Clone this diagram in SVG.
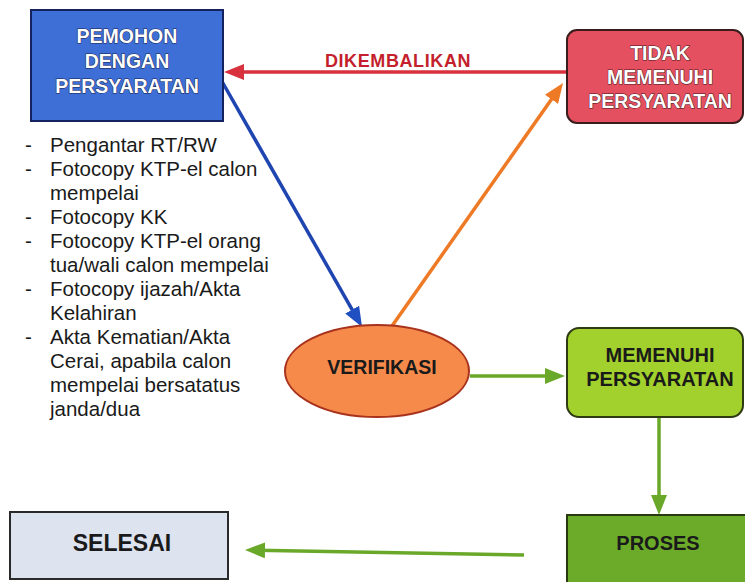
<svg xmlns="http://www.w3.org/2000/svg" width="745" height="582" viewBox="0 0 745 582">
<defs>
<style>
text{font-family:"Liberation Sans",Arial,sans-serif;}
.wt{fill:#ffffff;font-size:19.5px;font-weight:bold;text-anchor:middle;stroke:#1b2350;stroke-width:1px;paint-order:stroke;}
.bt{fill:#1a1a1a;font-size:20px;font-weight:bold;text-anchor:middle;}
.lst{fill:#1a1a1a;font-size:20.5px;}
.ln{fill:none;stroke-width:3.5;}
</style>
<marker id="hRed" markerUnits="userSpaceOnUse" viewBox="0 0 20 16" markerWidth="20" markerHeight="16" refX="8" refY="8" orient="auto"><path d="M0,0 L20,8 L0,16 z" fill="#d8323e"/></marker>
<marker id="hBlue" markerUnits="userSpaceOnUse" viewBox="0 0 20 16" markerWidth="20" markerHeight="16" refX="8" refY="8" orient="auto"><path d="M0,0 L20,8 L0,16 z" fill="#1f4fc0"/></marker>
<marker id="hOrange" markerUnits="userSpaceOnUse" viewBox="0 0 20 16" markerWidth="20" markerHeight="16" refX="8" refY="8" orient="auto"><path d="M0,0 L20,8 L0,16 z" fill="#ee7a26"/></marker>
<marker id="hGreen" markerUnits="userSpaceOnUse" viewBox="0 0 20 16" markerWidth="20" markerHeight="16" refX="8" refY="8" orient="auto"><path d="M0,0 L20,8 L0,16 z" fill="#6aa82a"/></marker>
</defs>
<rect width="745" height="582" fill="#ffffff"/>

<g id="connectors">
<line class="ln" x1="567" y1="72" x2="236" y2="72" stroke="#d8323e" marker-end="url(#hRed)"/>
<text x="398" y="67" font-size="18" font-weight="bold" fill="#c41f2c" text-anchor="middle" letter-spacing="0.6">DIKEMBALIKAN</text>
<line class="ln" x1="220" y1="78" x2="356.1" y2="316.6" stroke="#1f45b0" marker-end="url(#hBlue)"/>
<line class="ln" x1="392" y1="326" x2="556.1" y2="92.8" stroke="#ee7a26" marker-end="url(#hOrange)"/>
<line class="ln" x1="470" y1="376" x2="553" y2="376" stroke="#6aa82a" marker-end="url(#hGreen)"/>
<line class="ln" x1="659" y1="417" x2="659" y2="503" stroke="#6aa82a" marker-end="url(#hGreen)"/>
<line class="ln" x1="524" y1="555" x2="257" y2="550.2" stroke="#6aa82a" marker-end="url(#hGreen)"/>
</g>

<g id="pemohon">
<rect x="31" y="10" width="192" height="111" fill="#3d6fd6" stroke="#14235e" stroke-width="2"/>
<text class="wt" x="127" y="43">PEMOHON</text>
<text class="wt" x="127" y="68">DENGAN</text>
<text class="wt" x="127" y="93">PERSYARATAN</text>
</g>

<g id="persyaratan-list">
<text class="lst" x="25" y="152">-</text><text class="lst" x="50" y="152">Pengantar RT/RW</text>
<text class="lst" x="25" y="176">-</text><text class="lst" x="50" y="176">Fotocopy KTP-el calon</text>
<text class="lst" x="50" y="200">mempelai</text>
<text class="lst" x="25" y="224">-</text><text class="lst" x="50" y="224">Fotocopy KK</text>
<text class="lst" x="25" y="248">-</text><text class="lst" x="50" y="248">Fotocopy KTP-el orang</text>
<text class="lst" x="50" y="272">tua/wali calon mempelai</text>
<text class="lst" x="25" y="296">-</text><text class="lst" x="50" y="296">Fotocopy ijazah/Akta</text>
<text class="lst" x="50" y="320">Kelahiran</text>
<text class="lst" x="25" y="344">-</text><text class="lst" x="50" y="344">Akta Kematian/Akta</text>
<text class="lst" x="50" y="368">Cerai, apabila calon</text>
<text class="lst" x="50" y="392">mempelai bersatatus</text>
<text class="lst" x="50" y="416">janda/dua</text>
</g>

<g id="tidak-memenuhi">
<rect x="567" y="30" width="176" height="93" rx="10" fill="#e4505f" stroke="#3a1c1c" stroke-width="2"/>
<text class="wt" x="660" y="60" style="stroke:#4a1418">TIDAK</text>
<text class="wt" x="660" y="84" style="stroke:#4a1418">MEMENUHI</text>
<text class="wt" x="660" y="108" style="stroke:#4a1418">PERSYARATAN</text>
</g>

<g id="verifikasi">
<ellipse cx="377" cy="371" rx="92" ry="46" fill="#f58a4b" stroke="#a8321c" stroke-width="2"/>
<text class="bt" x="382" y="374" style="font-size:19.5px">VERIFIKASI</text>
</g>

<g id="memenuhi">
<rect x="567" y="328" width="176" height="89" rx="12" fill="#a2d02c" stroke="#2d3a12" stroke-width="2"/>
<text class="bt" x="660" y="362">MEMENUHI</text>
<text class="bt" x="660" y="386">PERSYARATAN</text>
</g>

<g id="proses">
<rect x="567" y="515" width="185" height="75" fill="#6caa2a" stroke="#2a3a10" stroke-width="2"/>
<text class="bt" x="658" y="550">PROSES</text>
</g>

<g id="selesai">
<rect x="10" y="512" width="218" height="67" fill="#dde3ef" stroke="#2a2a2a" stroke-width="2"/>
<text class="bt" x="122" y="551" style="font-size:23px">SELESAI</text>
</g>
</svg>
